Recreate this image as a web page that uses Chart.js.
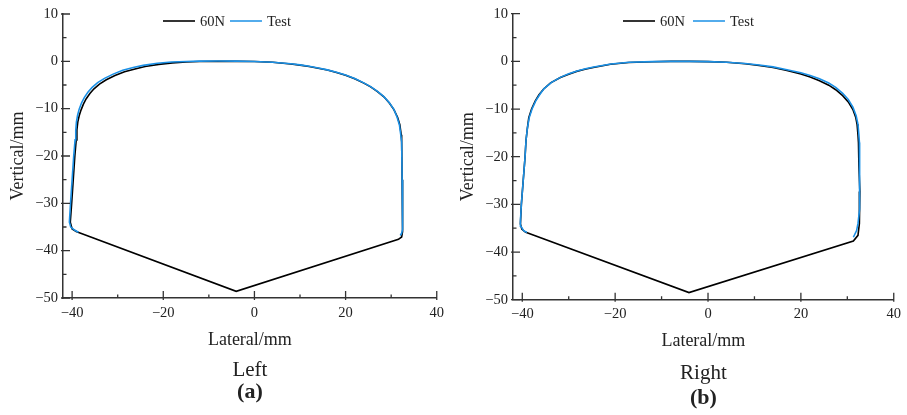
<!DOCTYPE html>
<html>
<head>
<meta charset="utf-8">
<script src="https://cdn.jsdelivr.net/npm/chart.js@4.4.1/dist/chart.umd.min.js"></script>
<style>
  body { margin: 0; background: #fff; }
  .wrap { display: flex; }
  canvas { display: block; }
</style>
</head>
<body>
<div class="wrap">
  <canvas id="leftChart" width="450" height="415"></canvas>
  <canvas id="rightChart" width="457" height="415"></canvas>
</div>
<script>
// tick values
const xTicks = [-40, -20, 0, 20, 40];
const xMinor = [-30, -10, 10, 30];
const yTicks = [-50, -40, -30, -20, -10, 0, 10];
const yMinor = [-45, -35, -25, -15, -5, 5];
const seriesNames = ['60N', 'Test'];

// (a) Left - 60N profile
const left60X = [-39.0, -40.0, -40.4, -40.1, -39.75, -39.4, -39.1, -38.95, -38.75, -38.45, -38.05, -37.5, -36.9, -36.1, -35.2, -34.0, -32.5, -30.6, -28.5, -26.2, -24.0, -21, -18, -15, -12, -8, -4, 0, 4, 8, 10, 12, 14, 16, 18, 20, 22, 24, 25.5, 27, 28.4, 29.6, 30.6, 31.4, 31.9, 32.2, 32.3, 32.4, 32.5, 32.5, 32.3, 31.6, -4.0, -39.0];
const left60Y = [-36.0, -35.4, -34.0, -30, -25, -20, -16.6, -14.5, -12.8, -11.5, -10.3, -9.0, -7.9, -6.8, -5.8, -4.8, -3.9, -3.0, -2.2, -1.6, -1.1, -0.65, -0.33, -0.15, -0.05, 0, 0, -0.05, -0.2, -0.55, -0.8, -1.1, -1.45, -1.85, -2.35, -2.95, -3.7, -4.6, -5.4, -6.4, -7.5, -8.8, -10.2, -11.8, -13.4, -15.5, -17, -25, -33, -36.0, -37.1, -37.6, -48.6, -36.0];
// (a) Left - Test profile
const leftTestX = [-38.6, -39.4, -40.3, -40.6, -40.35, -40.0, -39.65, -39.35, -39.2, -39.05, -38.8, -38.45, -37.9, -37.3, -36.5, -35.6, -34.4, -32.9, -31.0, -28.9, -26.6, -24.4, -21.3, -18.2, -15, -12, -8, -4, 0, 4, 8, 10, 12, 14, 16, 18, 20, 22, 24, 25.5, 27, 28.4, 29.6, 30.6, 31.3, 31.8, 32.1, 32.3, 32.4, 32.5, 32.5, 32.3, 32.0];
const leftTestY = [-36.1, -35.7, -35.0, -34.0, -30, -25, -20, -16.6, -14.5, -12.8, -11.4, -10.1, -8.7, -7.6, -6.5, -5.5, -4.5, -3.6, -2.7, -1.9, -1.3, -0.85, -0.42, -0.15, -0.02, 0.05, 0.08, 0.05, -0.05, -0.2, -0.5, -0.75, -1.05, -1.4, -1.8, -2.3, -2.9, -3.65, -4.55, -5.35, -6.35, -7.45, -8.75, -10.15, -11.8, -13.4, -15.5, -17, -25, -33, -35.5, -36.3, -36.8];

// (b) Right - 60N profile
const right60X = [-39.4, -40.1, -40.4, -40.2, -39.8, -39.4, -39.2, -38.9, -38.6, -38.0, -37.2, -36.4, -35.4, -33.9, -31.8, -30.0, -28.3, -26.5, -24.7, -21.0, -17.1, -12, -8, -4, 0, 4, 8, 11, 14, 17, 20, 22, 24, 26, 27.5, 29, 30.2, 31.2, 31.8, 32.1, 32.3, 32.4, 32.5, 32.7, 32.6, 32.3, 31.3, -4.1, -39.4];
const right60Y = [-35.8, -35.2, -34.1, -30, -25, -20, -16.6, -14, -11.8, -10, -8.3, -7.0, -5.8, -4.5, -3.4, -2.7, -2.1, -1.65, -1.3, -0.6, -0.25, -0.08, 0, 0, -0.05, -0.2, -0.5, -0.85, -1.3, -1.9, -2.65, -3.3, -4.05, -5.0, -5.95, -7.2, -8.5, -10.1, -11.7, -13.2, -15.5, -17, -22, -27.3, -34, -36.5, -37.7, -48.5, -35.8];
// (b) Right - Test profile
const rightTestX = [-39.0, -39.7, -40.3, -40.4, -40.2, -39.8, -39.4, -39.2, -38.9, -38.5, -37.9, -37.1, -36.2, -35.3, -33.7, -31.7, -30.0, -28.2, -26.4, -24.6, -20.9, -17.0, -12, -8, -4, 0, 4, 8, 11, 14, 17, 20, 22, 24, 26, 27.5, 29, 30.2, 31.2, 31.9, 32.3, 32.5, 32.6, 32.7, 32.6, 32.3, 32.0, 31.3];
const rightTestY = [-35.9, -35.5, -34.6, -33.5, -30, -25, -20, -16.6, -14, -11.8, -10, -8.3, -6.9, -5.7, -4.4, -3.3, -2.6, -2.0, -1.55, -1.2, -0.55, -0.2, -0.05, 0, 0, -0.05, -0.2, -0.45, -0.75, -1.15, -1.75, -2.4, -2.95, -3.65, -4.55, -5.45, -6.7, -8.0, -9.6, -11.4, -13.2, -15.5, -17, -25, -31, -34, -35.5, -36.9];

const FONT = "'Liberation Serif', 'Times New Roman', serif";
const axisColor = '#333';
const textColor = '#222';
const lineColors = ['#000000', '#1a90e6'];

Chart.defaults.font.family = FONT;
Chart.defaults.color = textColor;

const toPoints = (xs, ys) => xs.map((x, i) => ({ x: x, y: ys[i] }));
const minus = v => (v < 0 ? '\u2212' + Math.abs(v) : '' + v);

// inward major/minor ticks like the original plot
const innerTicks = {
  id: 'innerTicks',
  afterDraw(chart) {
    const { ctx, chartArea: a, scales: { x, y } } = chart;
    ctx.save();
    ctx.strokeStyle = axisColor;
    ctx.lineWidth = 1.3;
    ctx.beginPath();
    xTicks.forEach(v => { const p = x.getPixelForValue(v); ctx.moveTo(p, a.bottom + 2); ctx.lineTo(p, a.bottom - 7); });
    xMinor.forEach(v => { const p = x.getPixelForValue(v); ctx.moveTo(p, a.bottom); ctx.lineTo(p, a.bottom - 3.5); });
    yTicks.forEach(v => { const p = y.getPixelForValue(v); ctx.moveTo(a.left - 2, p); ctx.lineTo(a.left + 7, p); });
    yMinor.forEach(v => { const p = y.getPixelForValue(v); ctx.moveTo(a.left, p); ctx.lineTo(a.left + 3.5, p); });
    ctx.stroke();
    ctx.restore();
  }
};

// small legend inside the plot, top
const lineLegend = {
  id: 'lineLegend',
  afterDraw(chart, args, opts) {
    const { ctx } = chart;
    let cx = opts.x;
    const cy = opts.y;
    ctx.save();
    ctx.font = '14.5px ' + FONT;
    ctx.textBaseline = 'middle';
    ctx.textAlign = 'left';
    chart.data.datasets.forEach(ds => {
      ctx.strokeStyle = ds.borderColor;
      ctx.lineWidth = 1.6;
      ctx.beginPath();
      ctx.moveTo(cx, cy);
      ctx.lineTo(cx + 32, cy);
      ctx.stroke();
      ctx.fillStyle = textColor;
      ctx.fillText(ds.label, cx + 37, cy + 1);
      cx += 37 + ctx.measureText(ds.label).width + opts.gap;
    });
    ctx.restore();
  }
};

function makeChart(id, sets, cfg) {
  const datasets = sets.map((s, i) => ({
    label: seriesNames[i],
    data: toPoints(s[0], s[1]),
    borderColor: lineColors[i],
    borderWidth: 1.6,
    pointRadius: 0,
    showLine: true,
    tension: 0,
    fill: false,
    order: sets.length - i // Test drawn on top of 60N
  }));
  return new Chart(document.getElementById(id), {
    type: 'scatter',
    data: { datasets },
    plugins: [innerTicks, lineLegend],
    options: {
      responsive: false,
      animation: false,
      devicePixelRatio: 1,
      layout: { padding: { left: 0, right: cfg.padRight, top: cfg.padTop, bottom: 0 } },
      plugins: {
        legend: { display: false },
        tooltip: { enabled: false },
        lineLegend: { x: cfg.legendX, y: 21, gap: cfg.legendGap },
        subtitle: {
          display: true, text: cfg.name, position: 'bottom', fullSize: false,
          color: textColor, font: { size: 21, lineHeight: 1 },
          padding: { top: cfg.subTop, bottom: 0 }
        },
        title: {
          display: true, text: cfg.tag, position: 'bottom', fullSize: false,
          color: textColor, font: { size: 22, weight: 'bold', lineHeight: 1 },
          padding: { top: cfg.titleTop, bottom: cfg.titleBottom }
        }
      },
      scales: {
        x: {
          type: 'linear', min: -42, max: 40,
          afterBuildTicks: s => { s.ticks = xTicks.map(v => ({ value: v })); },
          afterFit: s => { s.height = 52.8; },
          grid: { display: false, drawTicks: false },
          border: { display: true, color: axisColor, width: 1.5 },
          ticks: { padding: 6, color: textColor, font: { size: 14.5 }, maxRotation: 0, callback: minus },
          title: { display: true, text: 'Lateral/mm', color: textColor, font: { size: 18 }, padding: { top: 0, bottom: 0 } }
        },
        y: {
          type: 'linear', min: -50, max: 10,
          afterBuildTicks: s => { s.ticks = yTicks.map(v => ({ value: v })); },
          afterFit: s => { s.width = 63; },
          grid: { display: false, drawTicks: false },
          border: { display: true, color: axisColor, width: 1.5 },
          ticks: { padding: 5, color: textColor, font: { size: 14.5 }, callback: minus },
          title: { display: true, text: 'Vertical/mm', color: textColor, font: { size: 18 }, padding: { top: 7, bottom: 0 } }
        }
      }
    }
  });
}

makeChart('leftChart', [[left60X, left60Y], [leftTestX, leftTestY]], {
  name: 'Left', tag: '(a)', padRight: 13, padTop: 14,
  subTop: 8.7, titleTop: 0.5, titleBottom: 12, legendX: 163, legendGap: 5
});
makeChart('rightChart', [[right60X, right60Y], [rightTestX, rightTestY]], {
  name: 'Right', tag: '(b)', padRight: 13, padTop: 12.7,
  subTop: 10, titleTop: 3.5, titleBottom: 6, legendX: 173, legendGap: 8
});
</script>
</body>
</html>
